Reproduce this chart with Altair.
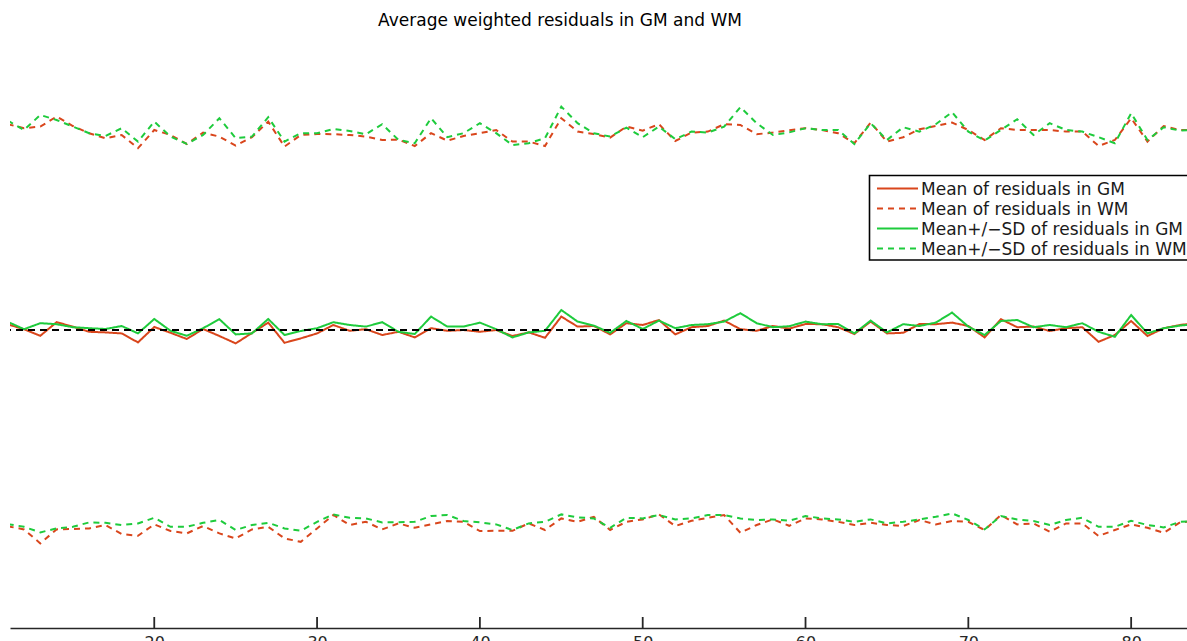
import altair as alt
import pandas as pd

# Volume index along the x axis
x_vals = list(range(11, 85))

# Mean residuals (middle band, solid lines)
mean_gm = [0.028, 0.004, -0.029, 0.039, 0.017, -0.009, -0.012, -0.017, -0.062, 0.015,
           -0.014, -0.045, 0.005, -0.030, -0.067, -0.015, 0.037, -0.064, -0.042, -0.017,
           0.025, -0.004, 0.004, -0.025, -0.009, -0.037, 0.009, -0.004, 0.000, -0.009,
           0.000, -0.030, -0.012, -0.039, 0.067, 0.017, 0.020, -0.022, 0.034, 0.025,
           0.050, -0.022, 0.014, 0.020, 0.047, 0.004, -0.004, 0.020, 0.007, 0.030,
           0.029, 0.014, -0.020, 0.042, -0.017, -0.014, 0.030, 0.029, 0.037, 0.020,
           -0.037, 0.054, 0.014, 0.017, -0.005, 0.009, 0.014, -0.059, -0.025, 0.045,
           -0.030, 0.009, 0.025, 0.035]
mean_wm = [0.041, 0.004, 0.034, 0.029, 0.014, 0.009, 0.005, 0.020, -0.017, 0.055,
           -0.004, -0.029, 0.009, 0.054, -0.022, -0.017, 0.055, -0.025, -0.005, 0.009,
           0.039, 0.025, 0.017, 0.039, -0.009, -0.020, 0.067, 0.017, 0.017, 0.037,
           0.004, -0.037, -0.012, -0.004, 0.100, 0.042, 0.022, -0.014, 0.045, 0.005,
           0.047, 0.009, 0.025, 0.029, 0.042, 0.084, 0.034, 0.014, 0.019, 0.042,
           0.029, 0.030, -0.017, 0.047, -0.012, 0.029, 0.020, 0.037, 0.087, 0.017,
           -0.025, 0.045, 0.050, 0.014, 0.025, 0.014, 0.034, -0.009, -0.034, 0.075,
           -0.017, 0.009, 0.022, 0.030]

# Mean + SD (upper band, dashed lines)
plus_gm = [1.029, 1.009, 1.017, 1.067, 1.020, 0.984, 0.959, 0.975, 0.909, 1.000,
           0.975, 0.930, 0.987, 0.967, 0.922, 0.964, 1.042, 0.917, 0.975, 0.980,
           0.979, 0.975, 0.967, 0.950, 0.952, 0.920, 0.984, 0.947, 0.970, 0.984,
           1.000, 0.942, 0.942, 0.920, 1.059, 0.992, 0.980, 0.962, 1.017, 0.997,
           1.029, 0.945, 0.987, 0.992, 1.029, 1.025, 0.979, 0.987, 0.999, 1.009,
           1.000, 0.984, 0.934, 1.037, 0.942, 0.964, 1.004, 1.020, 1.037, 1.000,
           0.950, 1.009, 1.000, 1.000, 1.000, 0.992, 0.992, 0.920, 0.950, 1.059,
           0.942, 1.020, 1.000, 1.000]
plus_wm = [1.047, 1.000, 1.075, 1.050, 1.017, 0.984, 0.970, 1.009, 0.942, 1.042,
           0.967, 0.930, 0.975, 1.059, 0.959, 0.967, 1.064, 0.942, 0.984, 0.984,
           1.005, 0.995, 0.979, 1.029, 0.950, 0.934, 1.059, 0.964, 0.984, 1.034,
           0.984, 0.925, 0.934, 0.959, 1.117, 1.034, 0.984, 0.967, 1.012, 0.964,
           1.017, 0.954, 0.992, 0.987, 1.017, 1.114, 1.034, 0.975, 0.988, 1.009,
           1.000, 1.000, 0.930, 1.034, 0.950, 1.014, 0.992, 1.029, 1.089, 0.992,
           0.947, 1.000, 1.054, 0.975, 1.034, 1.000, 0.992, 0.964, 0.934, 1.084,
           0.950, 1.014, 0.997, 1.000]

# Mean - SD (lower band, dashed lines)
minus_gm = [-0.981, -0.997, -1.067, -0.997, -0.995, -0.992, -0.975, -1.020, -1.029, -0.972,
            -1.005, -1.017, -0.980, -1.017, -1.042, -0.997, -0.984, -1.042, -1.059, -0.992,
            -0.925, -0.975, -0.959, -0.997, -0.967, -0.989, -0.972, -0.955, -0.959, -1.005,
            -1.004, -1.004, -0.967, -1.000, -0.942, -0.959, -0.934, -1.000, -0.959, -0.947,
            -0.922, -0.980, -0.954, -0.939, -0.925, -1.014, -0.975, -0.947, -0.979, -0.942,
            -0.947, -0.959, -0.975, -0.964, -0.975, -0.980, -0.950, -0.972, -0.955, -0.959,
            -1.000, -0.925, -0.972, -0.967, -1.009, -0.967, -0.967, -1.030, -1.000, -0.972,
            -0.989, -1.014, -0.962, -0.955]
minus_wm = [-0.970, -0.984, -1.012, -0.992, -0.984, -0.962, -0.964, -0.975, -0.967, -0.939,
            -0.984, -0.984, -0.964, -0.950, -1.000, -0.975, -0.964, -0.992, -1.004, -0.959,
            -0.922, -0.939, -0.942, -0.962, -0.961, -0.959, -0.930, -0.925, -0.955, -0.962,
            -0.972, -1.000, -0.967, -0.959, -0.922, -0.937, -0.942, -0.989, -0.939, -0.942,
            -0.925, -0.947, -0.942, -0.925, -0.925, -0.942, -0.950, -0.947, -0.954, -0.930,
            -0.942, -0.947, -0.959, -0.947, -0.967, -0.959, -0.947, -0.934, -0.917, -0.950,
            -0.997, -0.930, -0.947, -0.955, -0.975, -0.950, -0.939, -0.984, -0.984, -0.954,
            -0.975, -0.987, -0.959, -0.955]

labels = [
    "Mean of residuals in GM",
    "Mean of residuals in WM",
    "Mean+/\u2212SD of residuals in GM",
    "Mean+/\u2212SD of residuals in WM",
]
tick_values = [10, 20, 30, 40, 50, 60, 70, 80]
title_text = "Average weighted residuals in GM and WM"

RED = "#D9461C"
GREEN = "#1ECB3C"
SOLID = [1, 0]
DASHED = [6, 5]
FONT = "DejaVu Sans"

# (series id, legend label, values) -- red lines first so green sits on top
series = [
    ("gm_mean", labels[0], mean_gm),
    ("gm_plus", labels[1], plus_gm),
    ("gm_minus", labels[1], minus_gm),
    ("wm_mean", labels[2], mean_wm),
    ("wm_plus", labels[3], plus_wm),
    ("wm_minus", labels[3], minus_wm),
]
rows = []
for order, (sid, lab, vals) in enumerate(series):
    for xv, yv in zip(x_vals, vals):
        rows.append({"x": xv, "value": yv, "series": sid, "label": lab, "ord": order})
df = pd.DataFrame(rows)

x_scale = alt.Scale(domain=[11.14, 83.43], nice=False, zero=False)
y_scale = alt.Scale(domain=[-1.49, 1.65], nice=False, zero=False)

lines = alt.Chart(df).mark_line(strokeWidth=2, clip=True).encode(
    x=alt.X("x:Q", scale=x_scale,
            axis=alt.Axis(values=tick_values, grid=False, ticks=False, title=None,
                          domainColor="#262626", domainWidth=1.5,
                          labelFont=FONT, labelFontSize=16,
                          labelColor="#262626", labelPadding=6)),
    y=alt.Y("value:Q", scale=y_scale, axis=None),
    color=alt.Color("label:N", scale=alt.Scale(domain=labels, range=[RED, RED, GREEN, GREEN]),
                    legend=None),
    strokeDash=alt.StrokeDash("label:N",
                              scale=alt.Scale(domain=labels,
                                              range=[SOLID, DASHED, SOLID, DASHED]),
                              legend=None),
    detail="series:N",
    order="ord:Q",
)

# Inward tick marks on the x axis
tick_df = pd.DataFrame({"t": tick_values})
ticks = alt.Chart(tick_df).mark_rule(color="#262626", strokeWidth=1.8, clip=True).encode(
    x=alt.X("t:Q", scale=x_scale),
    y=alt.value(617),
    y2=alt.value(628),
)

zero_line = alt.Chart(pd.DataFrame({"z": [0.0]})).mark_rule(
    color="#000000", strokeWidth=2, strokeDash=[7, 5]
).encode(y=alt.Y("z:Q", scale=y_scale))

title = alt.Chart(pd.DataFrame({"t": [title_text]})).mark_text(
    font=FONT, fontSize=17, color="#000000", align="center", baseline="middle"
).encode(text="t:N", x=alt.value(550), y=alt.value(21))

# Boxed legend in the upper right
legend_layers = [
    alt.Chart(pd.DataFrame({"k": [0]})).mark_rect(
        fill="#ffffff", stroke="#000000", strokeWidth=1.6
    ).encode(x=alt.value(859.5), x2=alt.value(1220), y=alt.value(175.5), y2=alt.value(260))
]
legend_colors = [RED, RED, GREEN, GREEN]
legend_dashes = [SOLID, DASHED, SOLID, DASHED]
for i, lab in enumerate(labels):
    row_y = 188.5 + 20 * i
    legend_layers.append(
        alt.Chart(pd.DataFrame({"k": [i]})).mark_rule(
            color=legend_colors[i], strokeWidth=2, strokeDash=legend_dashes[i]
        ).encode(x=alt.value(867), x2=alt.value(908), y=alt.value(row_y))
    )
    legend_layers.append(
        alt.Chart(pd.DataFrame({"t": [lab]})).mark_text(
            font=FONT, fontSize=17, color="#1a1a1a", align="left", baseline="middle"
        ).encode(text="t:N", x=alt.value(911), y=alt.value(row_y + 1))
    )

chart = alt.layer(lines, ticks, zero_line, title, *legend_layers).properties(
    width=1177,
    height=628,
    autosize=alt.AutoSizeParams(type="none"),
    padding={"left": 10, "top": 0, "right": 0, "bottom": 13},
).configure(background="#ffffff").configure_view(stroke=None)

chart.save("out.html", embed_options={"renderer": "svg", "actions": False})
